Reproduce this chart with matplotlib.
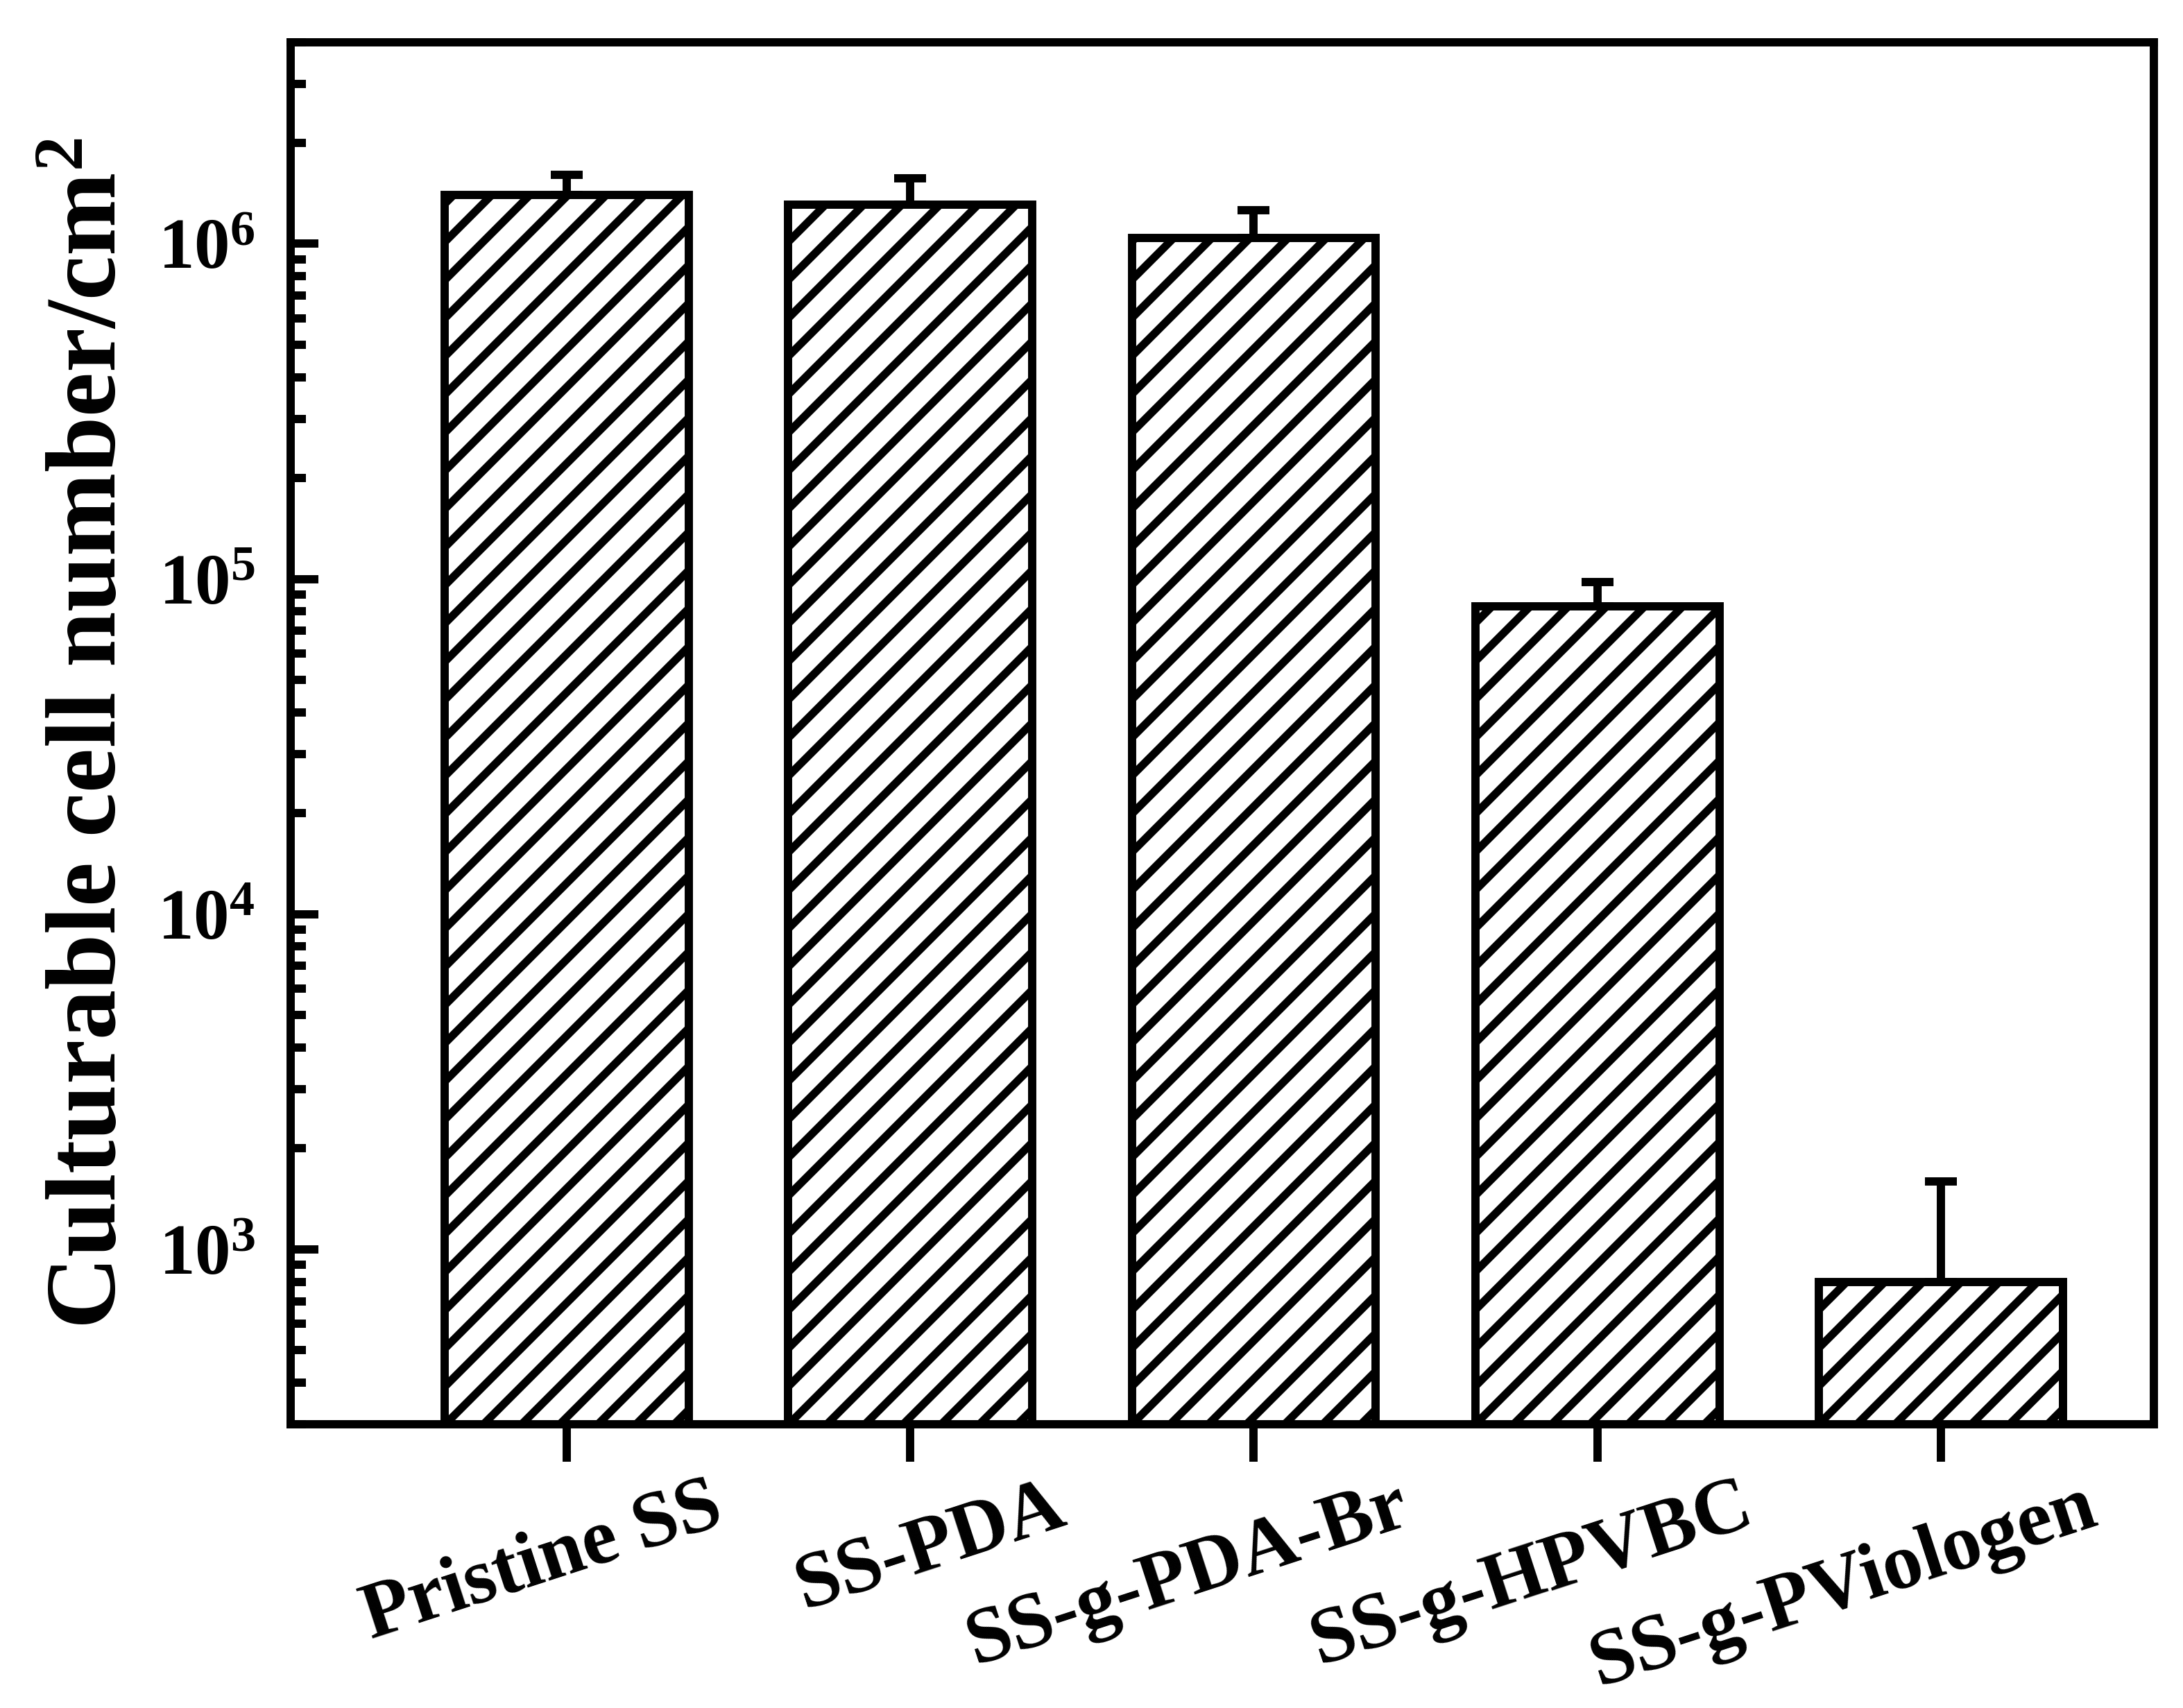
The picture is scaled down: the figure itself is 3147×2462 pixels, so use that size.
import matplotlib
matplotlib.use("Agg")
import matplotlib.pyplot as plt
import matplotlib.ticker as mticker
import matplotlib.transforms as mtransforms
import numpy as np

categories = ["Pristine SS", "SS-PDA", "SS-g-PDA-Br", "SS-g-HPVBC", "SS-g-PViologen"]
values = [1.40e6, 1.31e6, 1.04e6, 8.3e4, 8.0e2]
upper_err = [0.21e6, 0.26e6, 0.22e6, 1.5e4, 7.9e2]

DPI = 330
plt.rcParams['font.family'] = ['Liberation Serif', 'DejaVu Serif']
plt.rcParams['font.weight'] = 'bold'
plt.rcParams['mathtext.fontset'] = 'custom'
plt.rcParams['mathtext.rm'] = 'Liberation Serif:bold'
plt.rcParams['mathtext.bf'] = 'Liberation Serif:bold'
plt.rcParams['mathtext.it'] = 'Liberation Serif:italic:bold'
plt.rcParams['hatch.linewidth'] = 2.5
plt.rcParams['hatch.color'] = 'black'

fig = plt.figure(figsize=(3147 / DPI, 2462 / DPI), dpi=DPI)
ax = fig.add_axes([0.133, 0.166, 0.8537, 0.8094])

x = np.arange(len(categories))
ax.bar(x, values, width=0.71, color='white', edgecolor='black', linewidth=2.6,
       hatch='//', zorder=2)
ax.errorbar(x, values, yerr=[np.zeros(len(values)), upper_err], fmt='none',
            ecolor='black', elinewidth=2.6, capsize=5, capthick=2.6, zorder=1)

ax.set_yscale('log')
ax.set_ylim(300, 4e6)
ax.set_xlim(-0.804, 4.62)

for s in ax.spines.values():
    s.set_linewidth(2.6)

ax.yaxis.set_major_locator(mticker.LogLocator(base=10, numticks=10))
ax.yaxis.set_minor_locator(mticker.LogLocator(base=10, subs=np.arange(2, 10), numticks=20))
ax.yaxis.set_major_formatter(mticker.FuncFormatter(lambda v, p: r'$10^{%d}$' % int(round(np.log10(v)))))
ax.yaxis.set_minor_formatter(mticker.NullFormatter())
ax.tick_params(axis='y', which='major', direction='in', length=8.7, width=2.6,
               labelsize=22.5, pad=11)
ax.tick_params(axis='y', which='minor', direction='in', length=4.8, width=2.6)

ax.set_xticks(x)
ax.set_xticklabels(categories, rotation=18, ha='right', va='top',
                   rotation_mode='anchor', fontsize=25, fontweight='bold')
ax.tick_params(axis='x', which='major', direction='out', length=11.8, width=2.6, pad=0)
offset = mtransforms.ScaledTranslation(205 / DPI, -12 / DPI, fig.dpi_scale_trans)
for lab in ax.get_xticklabels():
    lab.set_transform(lab.get_transform() + offset)

ax.set_ylabel(r'Culturable cell number/cm$^2$', fontsize=31.5, fontweight='bold', labelpad=6.5)

fig.savefig('out.png', dpi=DPI)
